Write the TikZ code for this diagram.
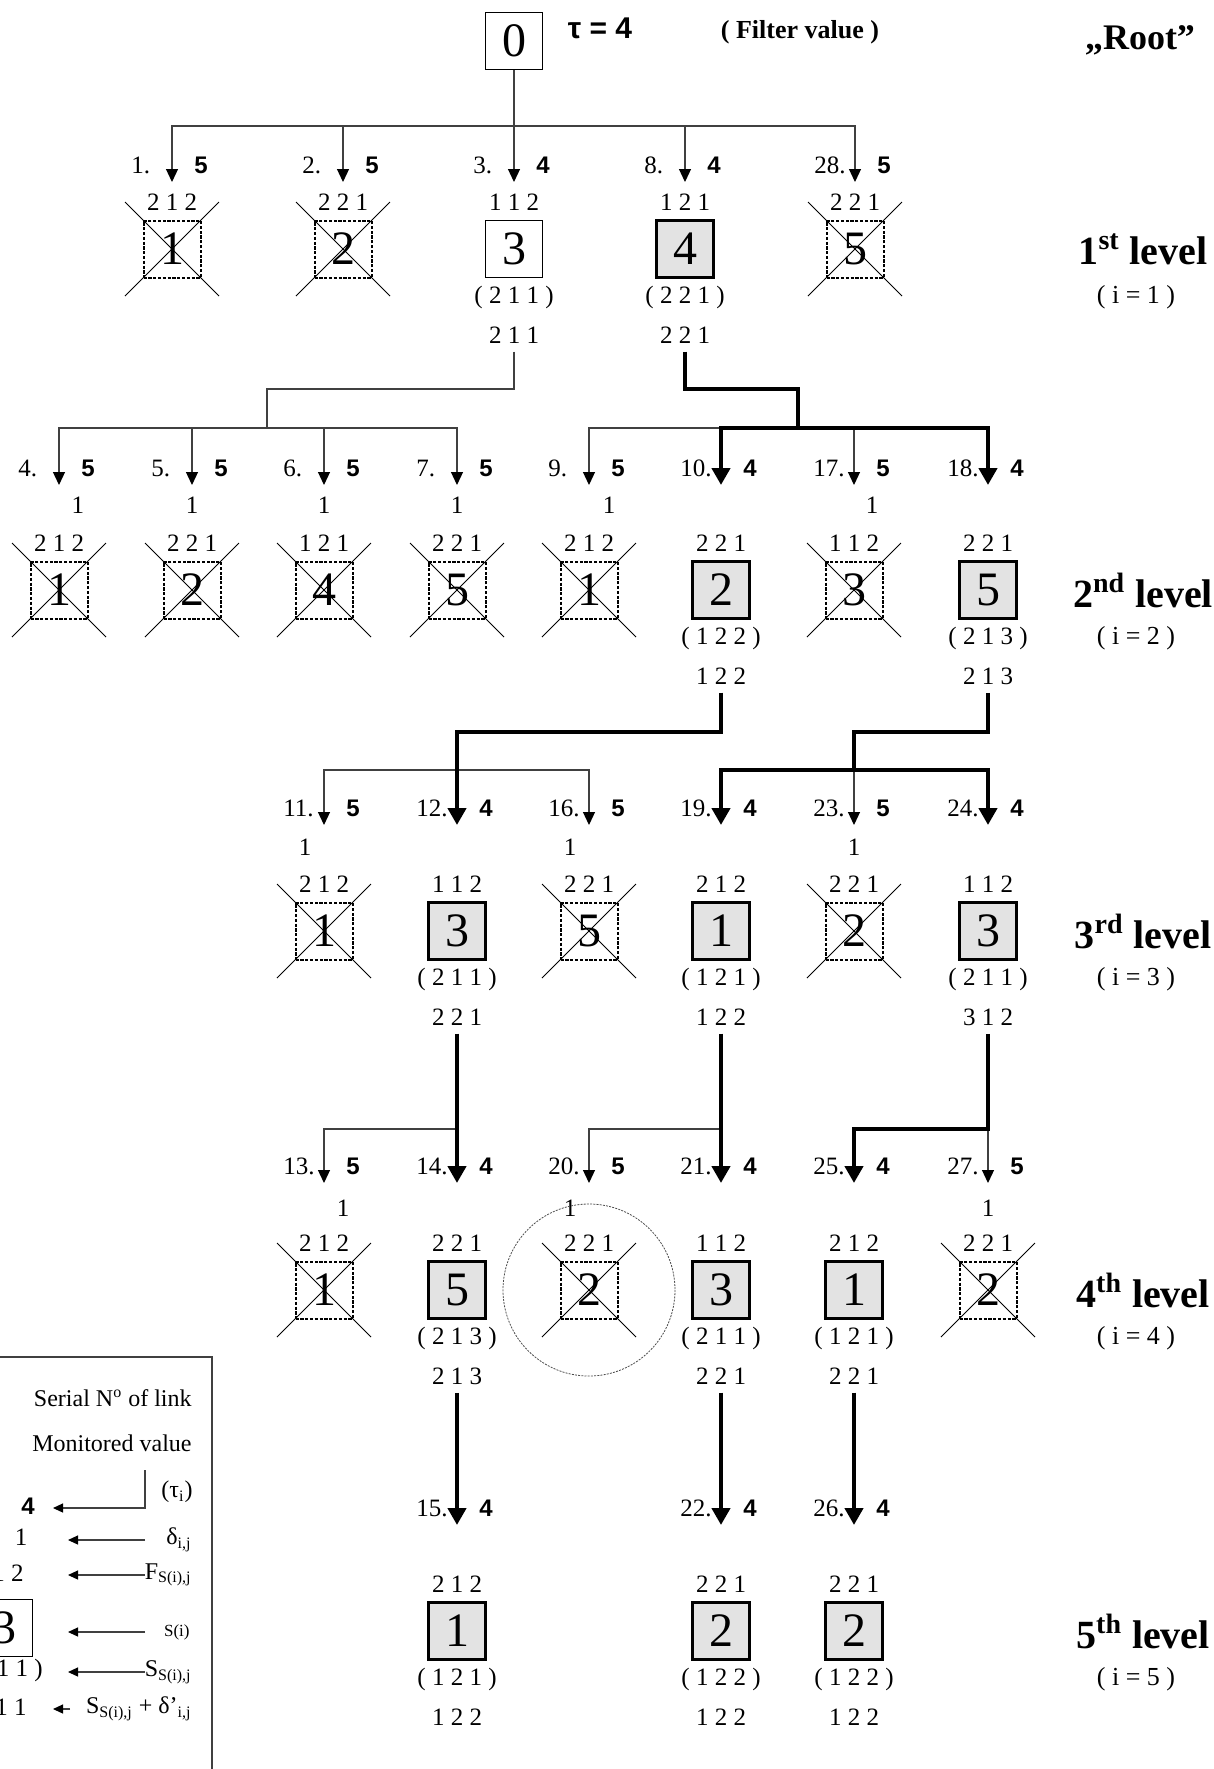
\documentclass[tikz,border=0pt]{standalone}
\usepackage{fontspec}
\setmainfont{Liberation Serif}
\setsansfont{Liberation Sans}
\usepackage{tikz}
\usetikzlibrary{arrows.meta}

\begin{document}
\begin{tikzpicture}[x=0.5pt, y=-0.5pt,
    every node/.style={inner sep=1pt},
    digits/.style={font=\fontsize{12.5}{14}\selectfont},
    serial/.style={font=\fontsize{12.5}{14}\selectfont, anchor=west},
    val/.style={font=\sffamily\bfseries\fontsize{12}{14}\selectfont, anchor=west},
    note/.style={font=\fontsize{12}{14}\selectfont},
    keybox/.style={draw, line width=1.3pt, fill=black!11, minimum size=28.5pt,
        inner sep=0pt, font=\fontsize{24}{26}\selectfont},
    plainbox/.style={keybox, fill=white, line width=0.6pt},
    cutbox/.style={keybox, fill=none, dash pattern=on 1.6pt off 0.8pt, line width=1pt},
    xline/.style={line width=0.5pt},
    wire/.style={draw=black!75, line width=0.6pt},
    link/.style={wire, -{Triangle[length=6.5pt,width=6pt,color=black]}},
    hot/.style={line width=2.2pt},
    hotlink/.style={hot, -{Triangle[length=8.5pt,width=9pt]}},
    legarrow/.style={wire, -{Triangle[length=5pt,width=4.5pt,color=black]}},
    ring/.style={draw=black!70, line width=0.4pt, dash pattern=on 1pt off 0.6pt},
    level/.style={font=\bfseries\fontsize{20}{22}\selectfont},
    levelidx/.style={font=\fontsize{13}{15}\selectfont}]

\useasboundingbox (0,0) rectangle (1214,1769);

% Root
\node[plainbox] (b0) at (514,41) {0};
\node[font=\sffamily\bfseries\fontsize{15}{17}\selectfont] (tau) at (600,28) {τ = 4};
\node[font=\bfseries\fontsize{13}{15}\selectfont] (filt) at (800,32) {( Filter value )};
\node[font=\bfseries\fontsize{18}{20}\selectfont] (root) at (1140,40) {„Root”};

% Links: arrow tip, serial number, monitored value
\foreach \k/\x/\y/\v in {1/172/182/5, 2/343/182/5, 3/514/182/4, 8/685/182/4, 28/855/182/5,
    4/59/485/5, 5/192/485/5, 6/324/485/5, 7/457/485/5,
    9/589/485/5, 10/721/485/4, 17/854/485/5, 18/988/485/4,
    11/324/825/5, 12/457/825/4, 16/589/825/5, 19/721/825/4, 23/854/825/5, 24/988/825/4,
    13/324/1183/5, 14/457/1183/4, 20/589/1183/5, 21/721/1183/4, 25/854/1183/4, 27/988/1183/5,
    15/457/1525/4, 22/721/1525/4, 26/854/1525/4} {
    \coordinate (t\k) at (\x,\y);
    \node[serial] (n\k) at (\x-43,\y-17) {\k.};
    \node[val] (v\k) at (\x+20,\y-17) {\v};
}

% Cut nodes (crossed out)
\foreach \k/\x/\y/\f/\s in {1/172/249/2 1 2/1, 2/343/249/2 2 1/2, 28/855/249/2 2 1/5,
    4/59/590/2 1 2/1, 5/192/590/2 2 1/2, 6/324/590/1 2 1/4, 7/457/590/2 2 1/5,
    9/589/590/2 1 2/1, 17/854/590/1 1 2/3,
    11/324/931/2 1 2/1, 16/589/931/2 2 1/5, 23/854/931/2 2 1/2,
    13/324/1290/2 1 2/1, 20/589/1290/2 2 1/2, 27/988/1290/2 2 1/2} {
    \node[cutbox] (b\k) at (\x,\y) {\s};
    \node[digits] (f\k) at (\x,\y-47) {\f};
    \draw[xline] ([shift={(-47,-47)}]b\k.center) -- ([shift={(47,47)}]b\k.center);
    \draw[xline] ([shift={(-47,47)}]b\k.center) -- ([shift={(47,-47)}]b\k.center);
}

% delta values
\foreach \k/\x/\y in {4/78/505, 5/192/505, 6/324/505, 7/457/505, 9/609/505, 17/872/505,
    11/305/847, 16/570/847, 23/854/847, 13/343/1208, 20/570/1208, 27/988/1208}
    \node[digits] (d\k) at (\x,\y) {1};

% Kept nodes
\node[plainbox] (b3) at (514,249) {3};
\node[digits] (f3) at (514,202) {1 1 2};
\node[digits] (p3) at (514,297) {( 2 1 1 )};
\node[digits, inner ysep=4pt] (s3) at (514,335) {2 1 1};
\foreach \k/\x/\y/\f/\s/\p/\q in {8/685/249/1 2 1/4/2 2 1/2 2 1,
    10/721/590/2 2 1/2/1 2 2/1 2 2, 18/988/590/2 2 1/5/2 1 3/2 1 3,
    12/457/931/1 1 2/3/2 1 1/2 2 1, 19/721/931/2 1 2/1/1 2 1/1 2 2, 24/988/931/1 1 2/3/2 1 1/3 1 2,
    14/457/1290/2 2 1/5/2 1 3/2 1 3, 21/721/1290/1 1 2/3/2 1 1/2 2 1, 25/854/1290/2 1 2/1/1 2 1/2 2 1,
    15/457/1631/2 1 2/1/1 2 1/1 2 2, 22/721/1631/2 2 1/2/1 2 2/1 2 2, 26/854/1631/2 2 1/2/1 2 2/1 2 2} {
    \node[keybox] (b\k) at (\x,\y) {\s};
    \node[digits] (f\k) at (\x,\y-47) {\f};
    \node[digits] (p\k) at (\x,\y+48) {( \p\ )};
    \node[digits, inner ysep=4pt] (s\k) at (\x,\y+86) {\q};
}

\draw[ring] (b20) circle[radius=86];

% Root to 1st level
\coordinate (j0) at (514,126);
\draw[link] (b0) -- (t3);
\foreach \k in {1,2,8,28} \draw[link] (j0) -| (t\k);

% 1st to 2nd level
\coordinate (h3) at (267,389);
\coordinate (j3) at (267,428);
\draw[wire] (s3) |- (h3) -- (j3);
\foreach \k in {4,5,6,7} \draw[link] (j3) -| (t\k);
\coordinate (h8) at (798,389);
\coordinate (j8) at (798,428);
\draw[link] (j8) -| (t9);
\draw[link] (j8) -| (t17);
\draw[hot] (s8) |- (h8) -- (j8);
\draw[hotlink] (j8) -| (t10);
\draw[hotlink] (j8) -| (t18);

% 2nd to 3rd level
\coordinate (h10) at (457,732);
\coordinate (j10) at (457,770);
\draw[link] (j10) -| (t11);
\draw[link] (j10) -| (t16);
\draw[hotlink] (s10) |- (h10) -- (t12);
\coordinate (h18) at (854,732);
\coordinate (j18) at (854,770);
\draw[link] (j18) -- (t23);
\draw[hot] (s18) |- (h18) -- (j18);
\draw[hotlink] (j18) -| (t19);
\draw[hotlink] (j18) -| (t24);

% 3rd to 4th level
\coordinate (j12) at (457,1129);
\coordinate (j19) at (721,1129);
\coordinate (j24) at (988,1129);
\draw[link] (j12) -| (t13);
\draw[link] (j19) -| (t20);
\draw[link] (j24) -- (t27);
\draw[hotlink] (s12) -- (t14);
\draw[hotlink] (s19) -- (t21);
\draw[hotlink] (s24) -- (j24) -| (t25);

% 4th to 5th level
\draw[hotlink] (s14) -- (t15);
\draw[hotlink] (s21) -- (t22);
\draw[hotlink] (s25) -- (t26);

% Level names
\foreach \i/\y/\ord in {1/249/st, 2/590/nd, 3/931/rd, 4/1290/th, 5/1631/th} {
    \node[level] (lev\i) at (1143,\y) {\i\textsuperscript{\ord} level};
    \node[levelidx] (idx\i) at (1136,\y+48) {( i = \i\ )};
}

% Legend
\draw[wire] (-30,1357) -| (212,1800);
\node[note, anchor=east] (lser) at (194,1398) {Serial N\textsuperscript{o} of link};
\node[note, anchor=east] (lmon) at (194,1443) {Monitored value};
\node[val, anchor=center] (l4) at (28,1506) {4};
\node[note] (ltau) at (177,1492) {(τ\textsubscript{i})};
\coordinate (lm) at (145,1470);
\coordinate (lt) at (53,1508);
\draw[legarrow] (lm) |- (lt);
\node[digits] (ld) at (21,1537) {1};
\node[digits, anchor=east] (lf) at (26,1573) {1 1 2};
\node[plainbox] (lb) at (4,1628) {3};
\node[digits, anchor=east] (lp) at (45,1670) {( 2 1 1 )};
\node[digits, anchor=east] (ls) at (29,1707) {2 1 1};
\node[note, anchor=east] (ldl) at (194,1540) {δ\textsubscript{i,j}};
\node[note, anchor=east] (lfl) at (194,1575) {F\textsubscript{S(i),j}};
\node[font=\fontsize{8.5}{10}\selectfont, anchor=east] (lbl) at (192,1632) {S(i)};
\node[note, anchor=east] (lpl) at (194,1672) {S\textsubscript{S(i),j}};
\node[note, anchor=east] (lsl) at (194,1709) {S\textsubscript{S(i),j} + δ'\textsubscript{i,j}};
\foreach \r/\y in {1/1540, 2/1575, 3/1632, 4/1672} {
    \coordinate (la\r) at (145,\y);
    \coordinate (lz\r) at (68,\y);
    \draw[legarrow] (la\r) -- (lz\r);
}
\coordinate (la5) at (70,1709);
\coordinate (lz5) at (53,1709);
\draw[legarrow] (la5) -- (lz5);

\end{tikzpicture}
\end{document}
